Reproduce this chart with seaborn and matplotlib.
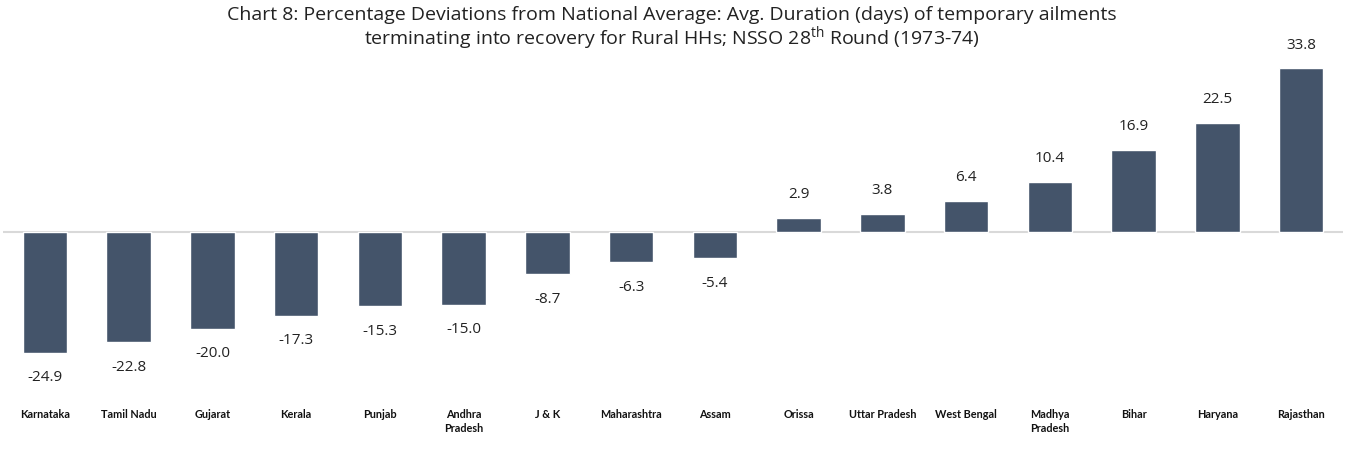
import numpy as np
import pandas as pd
import matplotlib
matplotlib.use('Agg')
import matplotlib.pyplot as plt
import seaborn as sns
from matplotlib import font_manager

states = ['Karnataka', 'Tamil Nadu', 'Gujarat', 'Kerala', 'Punjab', 'Andhra\nPradesh',
          'J & K', 'Maharashtra', 'Assam', 'Orissa', 'Uttar Pradesh', 'West Bengal',
          'Madhya\nPradesh', 'Bihar', 'Haryana', 'Rajasthan']
deviation = [-24.9, -22.8, -20.0, -17.3, -15.3, -15.0, -8.7, -6.3, -5.4,
             2.9, 3.8, 6.4, 10.4, 16.9, 22.5, 33.8]

df = pd.DataFrame({'state': states, 'deviation': deviation})

sns.set_theme(style='white')
avail = {f.name for f in font_manager.fontManager.ttflist}
main_font = 'Open Sans' if 'Open Sans' in avail else 'DejaVu Sans'
label_font = 'Lato' if 'Lato' in avail else main_font
plt.rcParams['font.family'] = [main_font, 'DejaVu Sans']
plt.rcParams['mathtext.fontset'] = 'custom'
plt.rcParams['mathtext.rm'] = main_font
plt.rcParams['mathtext.it'] = main_font

fig = plt.figure(figsize=(13.51, 4.77), dpi=100)
ax = fig.add_axes([3 / 1351, 1 - 402 / 477, 1340 / 1351, (402 - 45) / 477])

sns.barplot(data=df, x='state', y='deviation', color='#44546A', width=0.53,
            saturation=1, ax=ax)

ax.set_xlim(-0.5, 15.5)
ax.set_ylim(-34.9, 38.8)
ax.axhline(0, color='#D9D9D9', lw=1.5, zorder=0)
for s in ax.spines.values():
    s.set_visible(False)
ax.set_yticks([])
ax.set_xlabel('')
ax.set_ylabel('')
ax.tick_params(axis='x', length=0, pad=5)
ax.set_xticks(range(len(states)))
ax.set_xticklabels(states, fontsize=7.8, fontweight='bold', family=[label_font, 'DejaVu Sans'],
                   linespacing=1.35, va='top', color='#111111')

for i, v in enumerate(deviation):
    off = 12 if v > 0 else -12
    ax.annotate(f'{v:.1f}', (i, v), xytext=(0, off), textcoords='offset points',
                ha='center', va='bottom' if v > 0 else 'top', fontsize=11, color='#222222')

fig.text(0.4975, 1 - 15 / 477,
         'Chart 8: Percentage Deviations from National Average: Avg. Duration (days) of temporary ailments',
         ha='center', va='center', fontsize=14, color='#222222')
fig.text(0.4975, 1 - 38 / 477,
         r'terminating into recovery for Rural HHs; NSSO 28$^{\mathrm{th}}$ Round (1973-74)',
         ha='center', va='center', fontsize=14, color='#222222')

fig.savefig('out.png', dpi=100)
